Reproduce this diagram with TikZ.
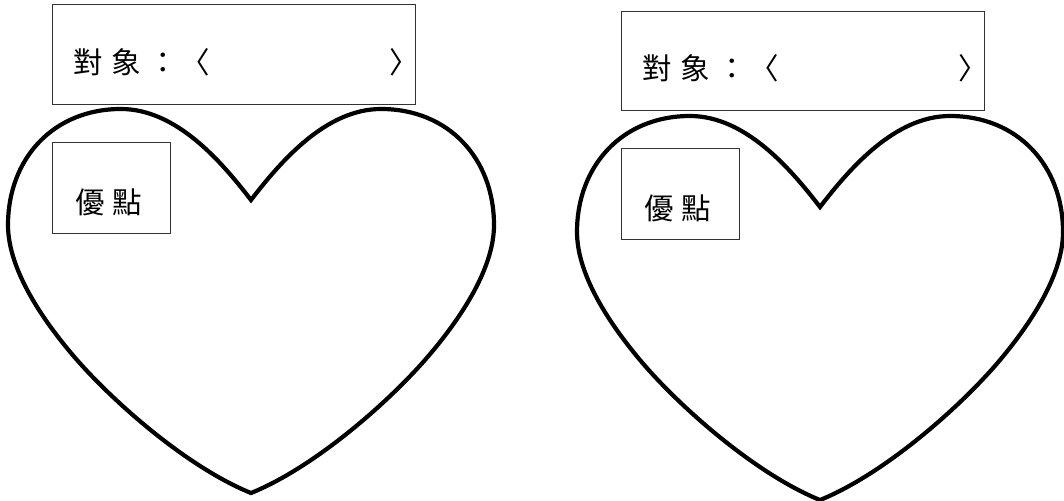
\documentclass[tikz,border=0pt]{standalone}
\usepackage{fontspec}
\newfontfamily\cjk{Noto Sans CJK TC}
\newcommand{\cel}[1]{\makebox[37.5pt]{#1}}
\begin{document}
\begin{tikzpicture}[x=1pt,y=-1pt,
  heartline/.style={line width=4.2pt, line join=miter},
  boxline/.style={draw=black!80, line width=0.9pt, inner sep=0, anchor=north west},
  lbl/.style={font=\cjk\fontsize{29.5}{31}\selectfont, inner sep=0, anchor=base west},
  heart/.pic={
    \draw[heartline] (0,91) .. controls (30,52) and (75,0) .. (130,0)
      .. controls (198,0) and (243,50) .. (243,116)
      .. controls (243,162) and (205.7,213.4) .. (180,244)
      .. controls (141.4,290) and (64.9,357.75) .. (0,384)
      .. controls (-64.9,357.75) and (-141.4,290) .. (-180,244)
      .. controls (-205.7,213.4) and (-243,162) .. (-243,116)
      .. controls (-243,50) and (-198,0) .. (-130,0)
      .. controls (-75,0) and (-30,52) .. (0,91) -- cycle;
  }
]
\useasboundingbox (0,0) rectangle (1064,500);
% left group
\pic at (251,109) {heart};
\node[boxline, minimum width=363pt, minimum height=100pt] (objboxL) at (52,4) {};
\node[lbl] (objL) at (69.75,74) {\cel{對}\cel{象}\cel{：}\hspace{-6pt}\cel{〈}\hspace{171.5pt}\cel{〉}};
\node[boxline, minimum width=118pt, minimum height=91pt] (advboxL) at (52,142) {};
\node[lbl] (advL) at (71.25,213) {\cel{優}\cel{點}};
% right group
\pic at (820,116) {heart};
\node[boxline, minimum width=363pt, minimum height=99pt] (objboxR) at (621,11) {};
\node[lbl] (objR) at (638.75,80) {\cel{對}\cel{象}\cel{：}\hspace{-6pt}\cel{〈}\hspace{171.5pt}\cel{〉}};
\node[boxline, minimum width=118pt, minimum height=91pt] (advboxR) at (621,148) {};
\node[lbl] (advR) at (640.25,219) {\cel{優}\cel{點}};
\end{tikzpicture}
\end{document}
